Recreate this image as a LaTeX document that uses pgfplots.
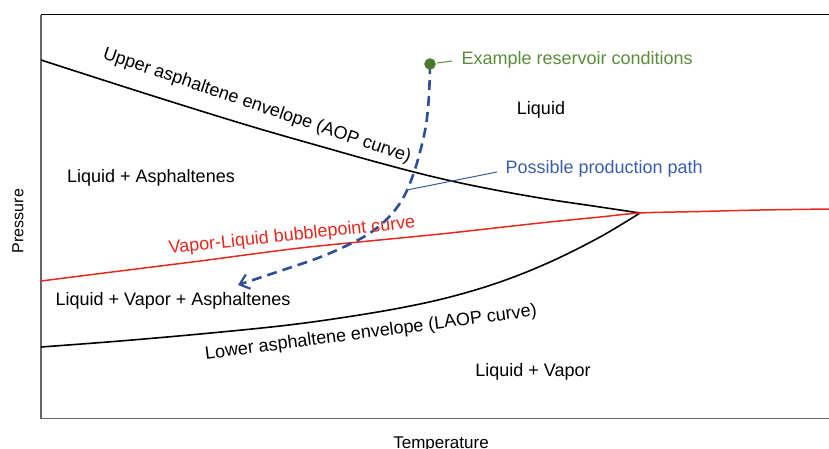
\documentclass[border=0pt]{standalone}
\usepackage{pgfplots}
\pgfplotsset{compat=1.18}
\usepackage{fontspec}
\setmainfont{Liberation Sans}
\usetikzlibrary{arrows.meta}
\definecolor{redc}{HTML}{E8281E}
\definecolor{greenc}{HTML}{5A8C3A}
\definecolor{greendot}{HTML}{4A7A30}
\definecolor{bluet}{HTML}{3A5EA8}
\definecolor{bluep}{HTML}{2E4F94}
\newcommand{\lf}{\fontsize{18}{21}\selectfont}
\begin{document}
\begin{tikzpicture}
\begin{axis}[
  at={(41pt,29.5pt)}, anchor=south west,
  scale only axis, width=788pt, height=404pt,
  xmin=41, xmax=829, ymin=14.5, ymax=418.5, y dir=reverse,
  hide axis, clip=false,
]
% frame
\draw[black, line width=1.5pt] (axis cs:41,14.5) -- (axis cs:829,14.5);
\draw[black!60, line width=1.5pt] (axis cs:41,14.5) -- (axis cs:41,418.5) -- (axis cs:829,418.5);
% upper AOP
\addplot[black, line width=1.6pt, smooth, tension=0.6] coordinates {
(41,60) (150,95) (250,126) (330,149) (380,163) (430,176) (480,187) (540,198) (600,207) (640,213)};
% lower LAOP
\addplot[black, line width=1.6pt, smooth, tension=0.6] coordinates {
(41,347) (120,341) (200,334) (280,326) (340,318) (400,308) (450,297) (500,282) (550,262) (600,237) (640,213)};
% bubblepoint
\addplot[redc, line width=1.5pt, smooth, tension=0.5] coordinates {
(41,281) (120,271) (200,261) (300,248) (400,238) (450,233) (540,223) (600,217) (640,213) (700,211.5) (760,210) (829,209)};
% production path
\addplot[bluep, line width=2.6pt, dash pattern=on 10pt off 6pt, smooth, tension=0.6,
  -{Straight Barb[length=9pt,width=15pt,line width=2.2pt]}] coordinates {
(430,64) (429,95) (426,125) (420,152) (412,178) (402,200) (388,218) (370,233) (348,245) (318,258) (280,271) (238,285)};
% callouts
\addplot[greenc, line width=1pt] coordinates {(437,63) (452,61)};
\addplot[bluet, line width=1pt] coordinates {(407,190) (497,172)};
\addplot[greendot, only marks, mark=*, mark size=5.5pt] coordinates {(430,64)};
% labels
\node[greenc, anchor=west, font=\lf] at (axis cs:458,60) {Example reservoir conditions};
\node[bluet, anchor=west, font=\lf] at (axis cs:502,169) {Possible production path};
\node[font=\lf] at (axis cs:541,110) {Liquid};
\node[font=\lf] at (axis cs:151,178) {Liquid + Asphaltenes};
\node[font=\lf] at (axis cs:173,301) {Liquid + Vapor + Asphaltenes};
\node[font=\lf] at (axis cs:533,372) {Liquid + Vapor};
\node[font=\lf, rotate=-18.8] at (axis cs:257,106) {Upper asphaltene envelope (AOP curve)};
\node[font=\lf, rotate=7.5] at (axis cs:371,333) {Lower asphaltene envelope (LAOP curve)};
\node[font=\lf, redc, rotate=6.0] at (axis cs:292,236) {Vapor-Liquid bubblepoint curve};
\node[font=\fontsize{17}{20}\selectfont, anchor=base] at (axis cs:441,448.5) {Temperature};
\node[font=\fontsize{16}{19}\selectfont, rotate=90] at (axis cs:18,221) {Pressure};
\end{axis}
\pgfresetboundingbox
\path[use as bounding box] (0,0) rectangle (829pt,448pt);
\end{tikzpicture}
\end{document}
